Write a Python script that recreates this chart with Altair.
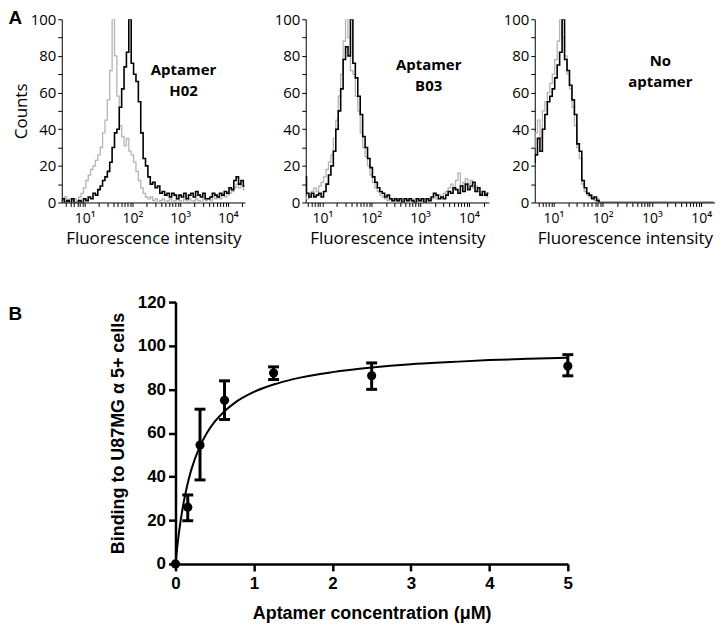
import altair as alt
import pandas as pd

# ---------------- Panel A: flow-cytometry histograms ----------------
# channel centres in log10(fluorescence), 0.50, 0.55, ... 4.45
CH_START = 0.5
CH_STEP = 0.05

h02_sample = [1, 2, 0, 1, 0, 2, 0, 0, 1, 0,
              2, 1, 3, 2, 5, 4, 7, 9, 12, 14,
              17, 22, 30, 38, 40, 52, 62, 74, 82, 100,
              76, 70, 66, 55, 38, 24, 20, 14, 10, 11,
              8, 9, 5, 6, 4, 5, 3, 5, 4, 2,
              4, 3, 5, 2, 4, 5, 3, 6, 4, 3,
              5, 2, 2, 3, 5, 4, 3, 5, 4, 6,
              5, 8, 7, 12, 14, 10, 12, 9, 8, 8]
h02_ctrl = [2, 1, 3, 0, 2, 1, 2, 1, 3, 5,
            8, 12, 15, 18, 20, 23, 26, 30, 38, 45,
            56, 72, 100, 80, 58, 42, 36, 31, 35, 28,
            26, 22, 17, 12, 8, 5, 3, 2, 3, 1,
            2, 0, 1, 2, 0, 1, 2, 0, 1, 2,
            1, 0, 2, 1, 2, 0, 1, 2, 1, 0,
            2, 1, 2, 1, 3, 2, 3, 2, 4, 3,
            4, 5, 6, 8, 10, 8, 9, 7, 6, 6]
b03_sample = [14, 14, 14, 14, 5, 3, 5, 3, 4, 5,
              3, 6, 10, 15, 20, 28, 40, 50, 62, 78,
              85, 80, 100, 76, 68, 58, 48, 36, 30, 24,
              19, 14, 11, 8, 6, 5, 3, 4, 2, 1,
              2, 1, 2, 0, 2, 1, 2, 1, 0, 2,
              1, 2, 0, 2, 1, 3, 5, 4, 2, 3,
              2, 4, 6, 5, 8, 7, 5, 9, 6, 10,
              7, 9, 11, 6, 8, 4, 6, 4, 5, 5]
b03_ctrl = [4, 4, 4, 3, 2, 4, 6, 8, 6, 9,
            11, 14, 18, 22, 26, 35, 45, 58, 70, 88,
            100, 90, 72, 70, 58, 50, 38, 30, 25, 20,
            15, 11, 8, 6, 4, 3, 2, 1, 2, 0,
            1, 2, 1, 0, 1, 2, 0, 1, 2, 1,
            0, 1, 2, 1, 2, 2, 3, 2, 4, 3,
            5, 6, 8, 10, 7, 12, 16, 9, 11, 13,
            10, 12, 8, 9, 6, 5, 4, 5, 3, 3]
none_sample = [22, 25, 22, 26, 35, 28, 40, 48, 55, 58,
               62, 68, 75, 82, 100, 78, 72, 64, 56, 48,
               32, 28, 12, 8, 5, 4, 2, 3, 1, 0,
               0, 0, 0, 0, 0, 0, 0, 0, 0, 0,
               0, 0, 0, 0, 0, 0, 0, 0, 0, 0,
               0, 0, 0, 0, 0, 0, 0, 0, 0, 0,
               0, 0, 0, 0, 0, 0, 0, 0, 0, 0,
               0, 0, 0, 0, 0, 0, 0, 0, 0, 0]
none_ctrl = [28, 32, 30, 38, 45, 35, 50, 55, 60, 65,
             70, 78, 88, 100, 90, 80, 70, 62, 52, 42,
             30, 24, 10, 6, 4, 3, 3, 1, 2, 0,
             0, 0, 0, 0, 0, 0, 0, 0, 0, 0,
             0, 0, 0, 0, 0, 0, 0, 0, 0, 0,
             0, 0, 0, 0, 0, 0, 0, 0, 0, 0,
             0, 0, 0, 0, 0, 0, 0, 0, 0, 0,
             0, 0, 0, 0, 0, 0, 0, 0, 0, 0]

panel_labels = ["Aptamer\nH02", "Aptamer\nB03", "No\naptamer"]
label_x = [1180, 1500, 1480]
label_y = [72.1, 74.8, 77.0]
panel_domains_log = [(0.52, 4.36), (0.66, 4.41), (0.62, 4.28)]

log_tick_values = [2, 3, 4, 5, 6, 7, 8, 9,
                   10, 20, 30, 40, 50, 60, 70, 80, 90,
                   100, 200, 300, 400, 500, 600, 700, 800, 900,
                   1000, 2000, 3000, 4000, 5000, 6000, 7000, 8000, 9000,
                   10000, 20000, 30000]
count_ticks = [0, 10, 20, 30, 40, 50, 60, 70, 80, 90, 100]

# ---------------- Panel B: binding curve ----------------
conc = [0, 0.15625, 0.3125, 0.625, 1.25, 2.5, 5]
binding = [0, 26, 54.5, 75, 87.5, 86.2, 90.7]
err_lo = [0, 19.8, 38.5, 66.2, 84.5, 80, 86.2]
err_hi = [0, 31.6, 70.9, 83.9, 90.3, 92.1, 95.9]
fit_x = [0, 0.025, 0.05, 0.1, 0.15, 0.2, 0.3, 0.4, 0.5, 0.625, 0.75, 1.0,
         1.25, 1.5, 2.0, 2.5, 3.0, 3.5, 4.0, 4.5, 5.0]
fit_y = [0, 8.6, 15.9, 27.4, 36.1, 43.0, 53.0, 60.0, 65.2, 70.0, 73.7, 78.8,
         82.2, 84.7, 87.9, 90.0, 91.5, 92.5, 93.4, 94.0, 94.5]

FONT_A = "Open Sans"
FONT_B = "Liberation Sans"
LETTER_DX = -53.5
LETTER_DY = -10

sup_expr = ("datum.value == 10 ? '10\u00b9' : datum.value == 100 ? '10\u00b2' : "
            "datum.value == 1000 ? '10\u00b3' : datum.value == 10000 ? '10\u2074' : ''")


def letter_mark(letter, dx, dy):
    return alt.Chart(pd.DataFrame({"t": [letter]})).mark_text(
        font=FONT_B, fontSize=19, fontWeight="bold", color="black",
        align="left", baseline="top").encode(x=alt.value(dx), y=alt.value(dy), text="t:N")


def hist_panel(sample, ctrl, label, lx, ly, dom, plot_w, range_w, y_title, letter=None):
    lo, hi = 10 ** dom[0], 10 ** dom[1]
    rows_s, rows_c = [], []
    for i, (s, c) in enumerate(zip(sample, ctrl)):
        L = CH_START + CH_STEP * i
        if L > dom[1] + 1e-9:
            continue
        rows_s.append({"x": 10 ** L, "count": s})
        rows_c.append({"x": 10 ** L, "count": c})
    ticks = [v for v in log_tick_values if lo <= v <= hi]
    xenc = alt.X("x:Q", title="Fluorescence intensity",
                 scale=alt.Scale(type="log", domain=[lo, hi], range=[0, range_w], nice=False),
                 axis=alt.Axis(values=ticks, labelExpr=sup_expr, labelOverlap=False,
                               labelFlush=False, tickSize=4, tickColor="black",
                               domainColor="black", labelFont=FONT_A, labelFontSize=14,
                               labelColor="black", labelPadding=5, titleFont=FONT_A,
                               titleFontSize=17, titleFontWeight="normal", titleColor="black",
                               titlePadding=5, grid=False))
    yaxis = alt.Axis(values=count_ticks,
                     labelExpr="datum.value % 20 == 0 ? datum.label : ''",
                     tickSize=4, tickColor="black", domainColor="black",
                     labelFont=FONT_A, labelFontSize=15, labelColor="black",
                     labelPadding=2, titleFont=FONT_A, titleFontSize=17,
                     titleFontWeight="normal", titleColor="black", titlePadding=0,
                     grid=False)
    if y_title:
        yenc = alt.Y("count:Q", title=y_title, scale=alt.Scale(domain=[0, 100], nice=False), axis=yaxis)
    else:
        yenc = alt.Y("count:Q", title=None, scale=alt.Scale(domain=[0, 100], nice=False), axis=yaxis)

    gray = alt.Chart(pd.DataFrame(rows_c)).mark_line(
        interpolate="step", color="#b4b4b4", strokeWidth=1.3, clip=True).encode(x=xenc, y=yenc)
    black = alt.Chart(pd.DataFrame(rows_s)).mark_line(
        interpolate="step", color="black", strokeWidth=1.6, clip=True).encode(x=xenc, y=yenc)
    ann = alt.Chart(pd.DataFrame({"x": [lx], "count": [ly], "t": [label]})).mark_text(
        font=FONT_A, fontSize=15, fontWeight="bold", color="black", lineBreak="\n",
        lineHeight=21, align="center", baseline="middle").encode(x=xenc, y=yenc, text="t:N")
    layers = [gray, black, ann]
    if letter:
        layers.append(letter_mark(letter, LETTER_DX, LETTER_DY))
    return alt.layer(*layers).properties(width=plot_w, height=184)


p1 = hist_panel(h02_sample, h02_ctrl, panel_labels[0], label_x[0], label_y[0],
                panel_domains_log[0], 199, 184, "Counts", letter="A")
p2 = hist_panel(b03_sample, b03_ctrl, panel_labels[1], label_x[1], label_y[1],
                panel_domains_log[1], 184, 184, None)
p3 = hist_panel(none_sample, none_ctrl, panel_labels[2], label_x[2], label_y[2],
                panel_domains_log[2], 181, 181, None)

top = alt.hconcat(p1, p2, p3, spacing=46, bounds="flush")

# ---------------- Panel B ----------------
Y_TITLE_B = "Binding to U87MG \u03b1 5+ cells"
X_TITLE_B = "Aptamer concentration (\u03bcM)"

xB = alt.X("conc:Q", title=X_TITLE_B, scale=alt.Scale(domain=[0, 5], nice=False),
           axis=alt.Axis(values=[0, 1, 2, 3, 4, 5], format="d", tickSize=7, tickWidth=2.5,
                         domainWidth=2.5, tickColor="black", domainColor="black",
                         labelFont=FONT_B, labelFontSize=17, labelFontWeight="bold",
                         labelColor="black", labelPadding=5, titleFont=FONT_B,
                         titleFontSize=18, titleFontWeight="bold", titleColor="black",
                         titlePadding=13, grid=False, labelFlush=False))
yB_axis = alt.Axis(values=[0, 20, 40, 60, 80, 100, 120], tickSize=7, tickWidth=2.5,
                   domainWidth=2.5, tickColor="black", domainColor="black",
                   labelFont=FONT_B, labelFontSize=17, labelFontWeight="bold",
                   labelColor="black", labelPadding=3, titleFont=FONT_B,
                   titleFontSize=18, titleFontWeight="bold", titleColor="black",
                   titlePadding=10, grid=False, labelFlush=False)
yscaleB = alt.Scale(domain=[0, 120], nice=False)


def yB(field):
    return alt.Y(field, title=Y_TITLE_B, scale=yscaleB, axis=yB_axis)


pts = pd.DataFrame({"conc": conc, "binding": binding, "lo": err_lo, "hi": err_hi})
errs = pts[pts["conc"] > 0]
fit = pd.DataFrame({"conc": fit_x, "binding": fit_y})

curve = alt.Chart(fit).mark_line(color="black", strokeWidth=2, interpolate="monotone").encode(
    x=xB, y=yB("binding:Q"))
bars = alt.Chart(errs).mark_rule(color="black", strokeWidth=3).encode(
    x=xB, y=yB("lo:Q"), y2="hi:Q")
cap_lo = alt.Chart(errs).mark_tick(orient="horizontal", color="black", size=11,
                                   thickness=3, opacity=1).encode(x=xB, y=yB("lo:Q"))
cap_hi = alt.Chart(errs).mark_tick(orient="horizontal", color="black", size=11,
                                   thickness=3, opacity=1).encode(x=xB, y=yB("hi:Q"))
dots = alt.Chart(pts).mark_circle(color="black", size=85, opacity=1, clip=False).encode(
    x=xB, y=yB("binding:Q"))

panelB = alt.layer(curve, bars, cap_lo, cap_hi, dots).properties(width=394, height=263)

# narrow column holding the "B" letter, so panel B sits to the right of panel A's left edge
spacerB = letter_mark("B", LETTER_DX, 3).properties(width=1, height=263)
bottom = alt.hconcat(spacerB, panelB, spacing=175.7 - 8 + LETTER_DX - 1, bounds="flush")

chart = alt.vconcat(top, bottom, spacing=47).properties(
    padding=0, background="white").configure_view(stroke=None)

chart.save("out.html", embed_options={"renderer": "svg", "actions": False})
